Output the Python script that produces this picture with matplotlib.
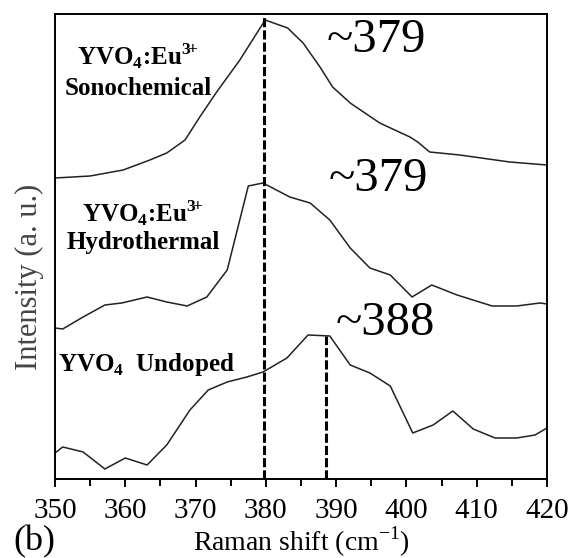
import numpy as np
import matplotlib
matplotlib.use('Agg')
import matplotlib.pyplot as plt
from matplotlib.ticker import MultipleLocator

plt.rcParams['font.family'] = ['Liberation Serif', 'DejaVu Serif']
plt.rcParams['mathtext.fontset'] = 'custom'
plt.rcParams['mathtext.rm'] = 'Liberation Serif'
plt.rcParams['mathtext.bf'] = 'Liberation Serif:bold'

# Raman spectra, offset vertically (arbitrary units)
sono_x = [350, 355, 359.7, 363.5, 365.9, 368.5, 370.6, 373.0, 376.3, 379.9, 383.1,
          385.3, 387.7, 389.5, 392.0, 396.2, 400.5, 401.6, 403.3, 407.6, 414.7, 420]
sono_y = [301, 303, 309, 319, 326, 339, 362, 387, 419, 459, 451,
          436, 412, 392, 376, 356, 342, 337, 327, 324, 317, 314]

hydro_x = [350, 351.1, 354.0, 357.1, 359.5, 363.1, 365.9, 368.8, 371.6, 374.5, 377.5,
           379.6, 383.4, 386.3, 389.1, 392.0, 394.8, 397.7, 400.8, 403.6, 407.2,
           412.2, 415.7, 419.0, 420]
hydro_y = [151, 150, 162, 174, 176, 182, 177, 173, 182, 209, 293,
           296, 282, 276, 259, 231, 211, 204, 182, 194, 184,
           173, 173, 176, 175]

undoped_x = [350, 351.1, 354.0, 357.1, 360.0, 363.1, 365.9, 369.2, 371.8, 374.5, 377.3,
             379.6, 383.0, 386.0, 389.1, 392.0, 394.8, 397.7, 400.9, 403.8, 406.6,
             409.5, 412.6, 415.7, 418.3, 420]
undoped_y = [26, 32, 27, 10, 21, 14, 34, 69, 89, 97, 102,
             107, 121, 144, 143, 114, 106, 93, 46, 54, 68,
             50, 41, 41, 44, 51]

# peak positions marked with dashed lines
doped_peak = 379.8
undoped_peak = 388.6
undoped_peak_height = 143

fig = plt.figure(figsize=(5.71, 5.58), dpi=100)
ax = fig.add_axes([0.0963, 0.1416, 0.8617, 0.8333])

lc = '#222222'
ax.plot(sono_x, sono_y, color=lc, lw=1.1)
ax.plot(hydro_x, hydro_y, color=lc, lw=1.1)
ax.plot(undoped_x, undoped_y, color=lc, lw=1.1)

ax.axvline(doped_peak, color='black', lw=2.2, dashes=(3, 1))
ax.plot([undoped_peak, undoped_peak], [0, undoped_peak_height], color='black',
        lw=2.2, dashes=(3, 1))

ax.set_xlim(350, 420)
ax.set_ylim(0, 465)
ax.xaxis.set_major_locator(MultipleLocator(10))
ax.xaxis.set_minor_locator(MultipleLocator(5))
ax.set_yticks([])
ax.tick_params(axis='x', which='major', direction='out', length=6, width=1.4,
               labelsize=21, pad=8)
ax.tick_params(axis='x', which='minor', direction='out', length=5, width=1.4)
for s in ax.spines.values():
    s.set_linewidth(1.4)

ax.set_xlabel('Raman shift (cm$^{-1}$)', fontsize=20, labelpad=0)
ax.text(-0.051, 0.434, 'Intensity (a. u.)', transform=ax.transAxes, rotation=90,
        ha='center', va='center', fontsize=22, color='#444444')

# sample labels
doped = 'YVO$_\\mathbf{4}$:Eu$^{\\mathbf{3}\\!\\mathbf{+}}$'
bold = dict(fontsize=18, fontweight='bold', ha='center', va='center')
ax.text(361.8, 423, doped, **bold)
ax.text(361.8, 391, 'Sonochemical', **bold)
ax.text(362.5, 266, doped, **bold)
ax.text(362.5, 236, 'Hydrothermal', **bold)
ax.text(350.4, 114, 'YVO$_\\mathbf{4}$  Undoped', fontsize=18, fontweight='bold',
        ha='left', va='center')

# peak annotations
ax.text(388.6, 439, '~{}'.format(int(doped_peak)), fontsize=35, ha='left', va='center')
ax.text(389.0, 300, '~{}'.format(int(doped_peak)), fontsize=35, ha='left', va='center')
ax.text(389.9, 156, '~{}'.format(int(undoped_peak)), fontsize=35, ha='left', va='center')

fig.text(0.023, 0.0, '(b)', fontsize=26, ha='left', va='bottom')

fig.savefig('out.png', dpi=100)
